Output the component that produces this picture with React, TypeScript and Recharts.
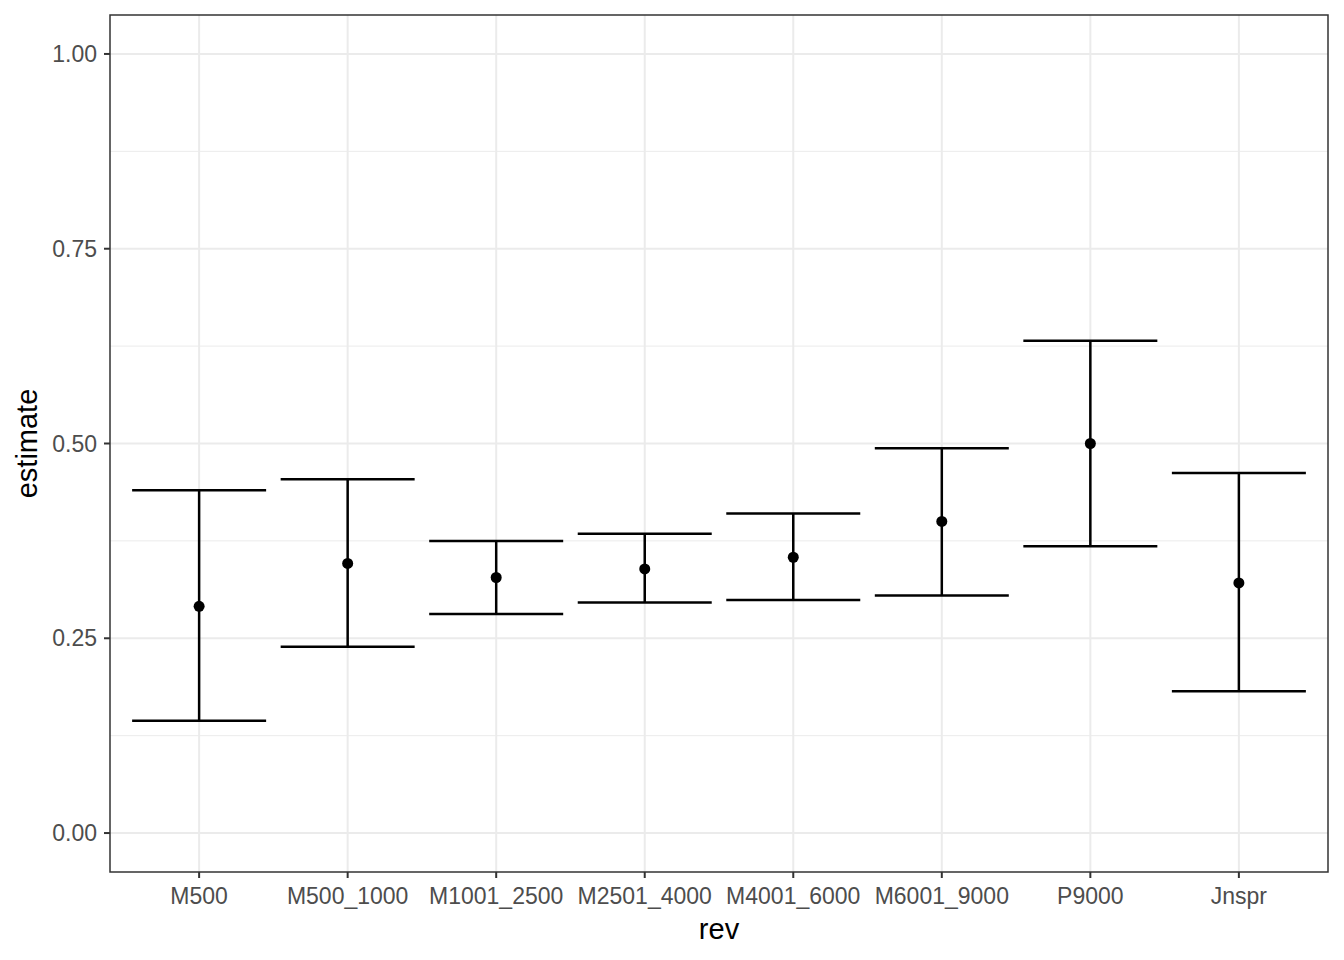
import React from 'react';
import {
  ComposedChart,
  Scatter,
  ErrorBar,
  XAxis,
  YAxis,
  ReferenceLine,
  ReferenceArea,
} from 'recharts';

const categories = ['M500', 'M500_1000', 'M1001_2500', 'M2501_4000', 'M4001_6000', 'M6001_9000', 'P9000', 'Jnspr'];
const estimates = [0.291, 0.346, 0.328, 0.339, 0.354, 0.4, 0.5, 0.321];
const lowers = [0.144, 0.239, 0.281, 0.296, 0.299, 0.305, 0.368, 0.182];
const uppers = [0.44, 0.454, 0.375, 0.384, 0.41, 0.494, 0.632, 0.462];

const yTicks = [0, 0.25, 0.5, 0.75, 1];
const yMinor = [0.125, 0.375, 0.625, 0.875];

const data = categories.map((c, i) => ({
  idx: i + 1,
  rev: c,
  estimate: estimates[i],
  err: [estimates[i] - lowers[i], uppers[i] - estimates[i]],
}));

const xTicks = data.map((d) => d.idx);

const FONT = 'Liberation Sans, Arial, sans-serif';
const GRID = '#EBEBEB';
const TICK_TEXT = { fill: '#4D4D4D', fontSize: 23, fontFamily: FONT };

export default function App() {
  return (
    <div style={{ width: 1344, height: 960, background: '#fff', fontFamily: FONT }}>
      <style>{'body{margin:0}'}</style>
      <ComposedChart width={1344} height={960} data={data} margin={{ top: 15, right: 16, bottom: 0, left: 0 }}>
        <XAxis
          type="number"
          dataKey="idx"
          domain={[0.4, 8.6]}
          ticks={xTicks}
          allowDataOverflow
          interval={0}
          tickFormatter={(v) => categories[v - 1] ?? ''}
          height={88}
          axisLine={false}
          tickLine={{ stroke: '#333333', strokeWidth: 2 }}
          tickSize={6}
          tickMargin={10}
          tick={TICK_TEXT}
          label={({ viewBox }: any) => (
            <text x={viewBox.x + viewBox.width / 2} y={viewBox.y + 67} textAnchor="middle" fontSize={29} fill="#000" fontFamily={FONT}>
              rev
            </text>
          )}
        />
        <YAxis
          type="number"
          dataKey="estimate"
          domain={[-0.05, 1.05]}
          ticks={yTicks}
          allowDataOverflow
          tickFormatter={(v) => v.toFixed(2)}
          width={110}
          axisLine={false}
          tickLine={{ stroke: '#333333', strokeWidth: 2 }}
          tickSize={6}
          tickMargin={7}
          tick={TICK_TEXT}
          label={({ viewBox }: any) => (
            <text
              x={27}
              y={viewBox.y + viewBox.height / 2}
              textAnchor="middle"
              dominantBaseline="central"
              fontSize={29}
              fill="#000"
              fontFamily={FONT}
              transform={`rotate(-90, 27, ${viewBox.y + viewBox.height / 2})`}
            >
              estimate
            </text>
          )}
        />
        {yMinor.map((v) => (
          <ReferenceLine key={`mn-${v}`} y={v} stroke={GRID} strokeWidth={1} zIndex={-100} />
        ))}
        {yTicks.map((v) => (
          <ReferenceLine key={`mj-${v}`} y={v} stroke={GRID} strokeWidth={2} zIndex={-100} />
        ))}
        {xTicks.map((v) => (
          <ReferenceLine key={`vx-${v}`} x={v} stroke={GRID} strokeWidth={2} zIndex={-100} />
        ))}
        <Scatter
          dataKey="estimate"
          fill="#000"
          isAnimationActive={false}
          shape={(p: any) => <circle cx={p.cx} cy={p.cy} r={5.5} fill="#000" />}
        >
          <ErrorBar dataKey="err" direction="y" width={67} stroke="#000" strokeWidth={2.5} isAnimationActive={false} />
        </Scatter>
        <ReferenceArea x1={0.4} x2={8.6} y1={-0.05} y2={1.05} fill="none" fillOpacity={0} stroke="#333333" strokeWidth={1.5} />
      </ComposedChart>
    </div>
  );
}
